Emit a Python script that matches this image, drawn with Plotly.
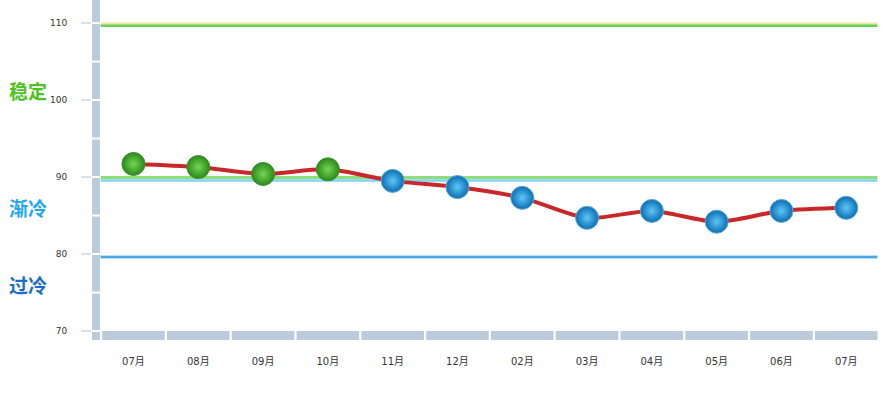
import plotly.graph_objects as go

months = ["07月", "08月", "09月", "10月", "11月", "12月", "02月", "03月", "04月", "05月", "06月", "07月"]
values = [91.7, 91.3, 90.4, 91.0, 89.5, 88.7, 87.3, 84.7, 85.6, 84.2, 85.6, 86.0]
y_ticks = [70, 80, 90, 100, 110]
zones = ["稳定", "渐冷", "过冷"]
zone_pos = [101.3, 86.1, 76.0]
zone_colors = ["#4cc21f", "#22a7ee", "#1a6cc8"]

x_idx = list(range(len(months)))
Y0, Y1 = 68.83, 113.0
X0, X1 = -0.640, 11.49
BAR = "#bccbdc"

fig = go.Figure()

green_idx = [i for i, v in enumerate(values) if v >= 90]
blue_idx = [i for i, v in enumerate(values) if v < 90]

fig.add_trace(go.Scatter(
    x=x_idx, y=values, mode="lines",
    line=dict(color="#c8282a", width=4, shape="spline", smoothing=0.8),
    hoverinfo="skip", showlegend=False))

fig.add_trace(go.Scatter(
    x=[x_idx[i] for i in green_idx], y=[values[i] for i in green_idx], mode="markers",
    marker=dict(size=23, color="#2a8a1a", gradient=dict(type="radial", color="#74d654"),
                line=dict(color="#3f8f30", width=1)),
    showlegend=False))
fig.add_trace(go.Scatter(
    x=[x_idx[i] for i in blue_idx], y=[values[i] for i in blue_idx], mode="markers",
    marker=dict(size=23, color="#0a6db3", gradient=dict(type="radial", color="#5fc8f6"),
                line=dict(color="#5fa9d6", width=1)),
    showlegend=False))

shapes = []
lx0, lx1 = X0, X0 + 8 / 64.8
# threshold lines
for yv, col, w in [(109.85, "#f3e8a6", 4), (109.65, "#5fd35a", 2.5),
                   (89.95, "#8fdc7a", 3), (89.55, "#7fd3f2", 2.5),
                   (79.6, "#b9def5", 4), (79.6, "#4aa6e6", 2)]:
    shapes.append(dict(type="line", xref="x", yref="y", x0=lx1 + 0.01, x1=X1 - 0.01,
                       y0=yv, y1=yv, line=dict(color=col, width=w), layer="below"))
# left axis bar segments
g = 0.13
for v in range(70, 113, 5):
    shapes.append(dict(type="rect", xref="x", yref="y", x0=lx0, x1=lx1,
                       y0=v + g, y1=min(v + 5 - g, Y1), fillcolor=BAR, line=dict(width=0)))
shapes.append(dict(type="rect", xref="x", yref="y", x0=lx0, x1=lx1,
                   y0=Y0, y1=70 - g, fillcolor=BAR, line=dict(width=0)))
# bottom bar segments
for i in x_idx:
    shapes.append(dict(type="rect", xref="x", yref="y", x0=i - 0.5 + 0.017, x1=i + 0.5 - 0.017,
                       y0=Y0, y1=70, fillcolor=BAR, line=dict(width=0)))

annotations = []
for t, yv, c in zip(zones, zone_pos, zone_colors):
    annotations.append(dict(text="<b>" + t + "</b>", xref="paper", yref="y",
                            x=(7 - 92) / 786, y=yv, xanchor="left", yanchor="middle",
                            showarrow=False,
                            font=dict(family="Noto Sans CJK SC", size=19, color=c)))

fig.update_layout(
    width=889, height=394,
    margin=dict(l=92, r=11, t=0, b=54),
    plot_bgcolor="white", paper_bgcolor="white",
    shapes=shapes, annotations=annotations,
    xaxis=dict(range=[X0, X1], tickvals=x_idx, ticktext=months, showgrid=False,
               zeroline=False, showline=False, ticks="", ticklabelstandoff=14,
               tickfont=dict(family="DejaVu Sans, Noto Sans CJK SC", size=10, color="#333")),
    yaxis=dict(range=[Y0, Y1], tickvals=y_ticks, showgrid=False, zeroline=False,
               showline=False, ticks="outside", ticklen=10, tickcolor="#d8e0ea", tickwidth=2,
               ticklabelstandoff=12,
               tickfont=dict(family="DejaVu Sans", size=9, color="#333")),
)

fig.write_html("out.html")
